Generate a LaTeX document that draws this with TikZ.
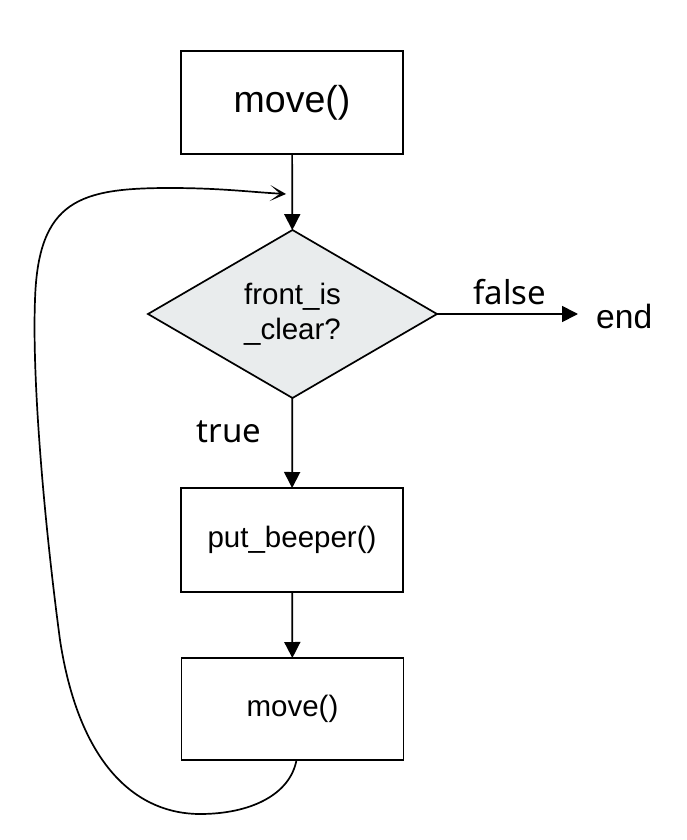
\documentclass[tikz,border=0pt]{standalone}
\usepackage{fontspec}
\setmainfont{Liberation Sans}
\newfontfamily\branchfont{Noto Sans}
\usepackage{xcolor}
\usetikzlibrary{arrows.meta,shapes.geometric}
\definecolor{decgray}{HTML}{E9ECED}
\tikzset{%
	process/.style  = {draw, rectangle, line width=1.7pt, minimum width=222pt, minimum height=103pt, inner sep=0pt, outer sep=0pt, text centered, font=\fontsize{29.5}{35}\selectfont},
	decision/.style = {draw, diamond, line width=1.7pt, fill=decgray, minimum width=289pt, minimum height=168pt, inner sep=0pt, outer sep=0pt, align=center, font=\fontsize{29.5}{35}\selectfont},
	arrow/.style    = {line width=1.7pt, -{Triangle[length=16pt,width=16pt]}},
	loop/.style     = {line width=1.7pt, -{Stealth[length=16pt,width=16pt,inset=10pt]}},
	branch/.style   = {inner sep=0pt, anchor=base, font=\branchfont\fontsize{33}{40}\selectfont},
}
\begin{document}
\begin{tikzpicture}[x=1pt,y=-1pt]
	\useasboundingbox (0,0) rectangle (686,840);
	\node[process, font=\fontsize{37.5}{45}\selectfont] (move1) at (292,102.5) {move()};
	\node[decision] (dec) at (292.5,314) {front\_is\\\_clear?};
	\node[process, minimum height=104pt] (put) at (292,540) {put\_beeper()};
	\node[process, minimum height=102pt] (move2) at (292.5,709) {move()};
	\node[inner sep=0pt, anchor=base west, font=\fontsize{33.6}{40}\selectfont] (endn) at (596,328) {end};
	\node[branch] (lblfalse) at (510,304) {false};
	\node[branch] (lbltrue) at (229,442) {true};
	\coordinate (loopin) at (286,194);
	
	\draw[arrow] (move1) -- (dec);
	\draw[arrow] (dec) -- (put);
	\draw[arrow] (put) -- (move2);
	\draw[arrow, shorten >=18pt] (dec.east) -- (dec.east -| endn.west);
	\draw[loop] ([xshift=4pt]move2.south) .. controls (290,795) and (250,814) .. (200,814)
		.. controls (140,814) and (80,770) .. (60,640)
		.. controls (44,520) and (32,380) .. (35,300)
		.. controls (38,200) and (80,188) .. (170,188)
		.. controls (220,188) and (250,192) .. (loopin);
\end{tikzpicture}
\end{document}
